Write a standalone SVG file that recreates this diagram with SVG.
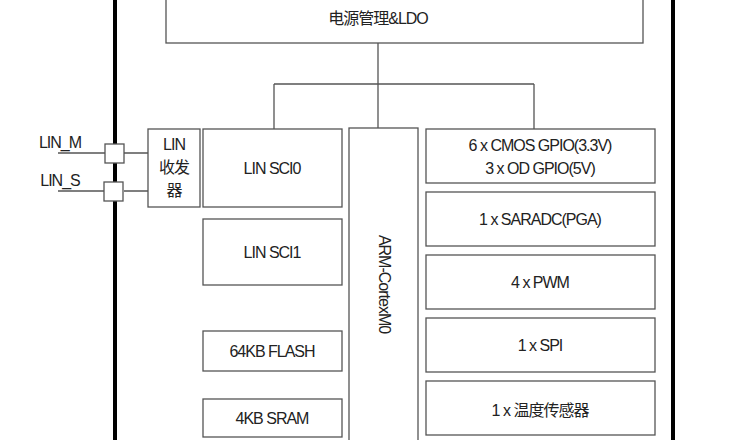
<svg xmlns="http://www.w3.org/2000/svg" width="748" height="440" viewBox="0 0 748 440">
<style>
.b{fill:#fff;stroke:#555;stroke-width:1.3}
.t{font-family:"Liberation Sans","Noto Sans CJK SC",sans-serif;font-size:16px;fill:#222;text-anchor:middle;letter-spacing:-1px}
.c{stroke:#555;stroke-width:1.3;fill:none}
.w{stroke:#000;stroke-width:4}
</style>
<rect width="748" height="440" fill="#fff"/>
<line class="w" x1="115" y1="0" x2="115" y2="440"/>
<line class="w" x1="673" y1="0" x2="673" y2="440"/>
<g id="connectors">
<path class="c" d="M378 43V84M274 84H534M274 84V129M378 84V128M534 84V129"/>
<path class="c" d="M58 153H105M124 153H148M58 191H105M124 191H148"/>
</g>
<g id="power"><rect class="b" x="166" y="-2" width="477" height="45"/><text class="t" x="378" y="24">电源管理&amp;LDO</text></g>
<g id="pinM"><rect class="b" x="105" y="144" width="19" height="19"/><text class="t" x="60" y="148">LIN_M</text></g>
<g id="pinS"><rect class="b" x="104" y="182" width="19" height="19"/><text class="t" x="60" y="186">LIN_S</text></g>
<g id="trx"><rect class="b" x="148" y="129" width="52" height="78"/><text class="t" x="174" y="150">LIN</text><text class="t" x="174" y="173">收发</text><text class="t" x="174" y="196">器</text></g>
<g id="sci0"><rect class="b" x="203" y="129" width="139" height="78"/><text class="t" x="272" y="174">LIN SCI0</text></g>
<g id="sci1"><rect class="b" x="203" y="219" width="139" height="66"/><text class="t" x="272" y="258">LIN SCI1</text></g>
<g id="flash"><rect class="b" x="203" y="331" width="139" height="40"/><text class="t" x="272" y="357">64KB FLASH</text></g>
<g id="sram"><rect class="b" x="203" y="399" width="139" height="38"/><text class="t" x="272" y="424">4KB SRAM</text></g>
<g id="arm"><rect class="b" x="349" y="128" width="69" height="314"/><text class="t" transform="translate(379 284) rotate(90)">ARM-CortexM0</text></g>
<g id="gpio"><rect class="b" x="426" y="129" width="229" height="54"/><text class="t" x="540" y="151">6 x CMOS GPIO(3.3V)</text><text class="t" x="540" y="174">3 x OD GPIO(5V)</text></g>
<g id="adc"><rect class="b" x="426" y="192" width="229" height="54"/><text class="t" x="540" y="225">1 x SARADC(PGA)</text></g>
<g id="pwm"><rect class="b" x="426" y="255" width="229" height="54"/><text class="t" x="540" y="288">4 x PWM</text></g>
<g id="spi"><rect class="b" x="426" y="318" width="229" height="54"/><text class="t" x="540" y="351">1 x SPI</text></g>
<g id="temp"><rect class="b" x="426" y="381" width="229" height="54"/><text class="t" x="540" y="416">1 x 温度传感器</text></g>
</svg>
